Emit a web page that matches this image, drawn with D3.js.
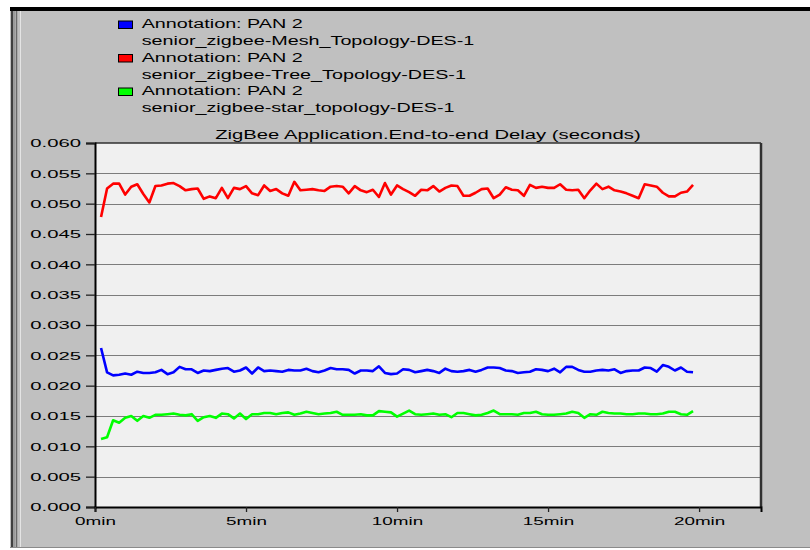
<!DOCTYPE html>
<html>
<head>
<meta charset="utf-8">
<script src="https://cdn.jsdelivr.net/npm/d3@7/dist/d3.min.js"></script>
<style>
body {margin:0; background:#fff}
svg {display:block}
text {font-family:"Liberation Sans", Arial, sans-serif; fill:#000}
</style>
</head>
<body>
<svg></svg>
<script>

// values (seconds), one sample every 0.2 min from 0.2 min
var t0 = 0.2
var dt = 0.2

var meshDelay = [
 0.0262,0.0222,0.0217,0.0218,0.0220,0.0218,0.0223,0.0221,0.0221,0.0222,
 0.0226,0.0219,0.0222,0.0231,0.0227,0.0227,0.0221,0.0225,0.0224,0.0226,
 0.0228,0.0229,0.0223,0.0225,0.0230,0.0220,0.0230,0.0224,0.0225,0.0224,
 0.0223,0.0226,0.0225,0.0225,0.0228,0.0224,0.0222,0.0225,0.0229,0.0227,
 0.0227,0.0226,0.0220,0.0225,0.0225,0.0224,0.0232,0.0221,0.0219,0.0220,
 0.0227,0.0226,0.0222,0.0224,0.0226,0.0224,0.0221,0.0228,0.0224,0.0223,
 0.0224,0.0226,0.0223,0.0226,0.0230,0.0230,0.0229,0.0225,0.0224,0.0221,
 0.0222,0.0223,0.0227,0.0226,0.0224,0.0228,0.0222,0.0231,0.0231,0.0226,
 0.0223,0.0223,0.0225,0.0226,0.0225,0.0227,0.0221,0.0224,0.0225,0.0225,
 0.0230,0.0229,0.0223,0.0234,0.0231,0.0225,0.0230,0.0223,0.0222]

var treeDelay = [
 0.0478,0.0525,0.0533,0.0533,0.0515,0.0528,0.0532,0.0516,0.0502,0.0529,
 0.0530,0.0533,0.0534,0.0529,0.0522,0.0524,0.0525,0.0508,0.0512,0.0509,
 0.0526,0.0509,0.0526,0.0524,0.0529,0.0517,0.0514,0.0530,0.0521,0.0524,
 0.0517,0.0513,0.0536,0.0522,0.0523,0.0524,0.0522,0.0521,0.0528,0.0529,
 0.0528,0.0517,0.0529,0.0522,0.0519,0.0523,0.0511,0.0534,0.0515,0.0530,
 0.0524,0.0519,0.0513,0.0523,0.0522,0.0529,0.0520,0.0526,0.0530,0.0529,
 0.0513,0.0513,0.0518,0.0524,0.0525,0.0509,0.0515,0.0527,0.0523,0.0522,
 0.0513,0.0531,0.0526,0.0528,0.0526,0.0526,0.0532,0.0523,0.0522,0.0523,
 0.0509,0.0522,0.0533,0.0524,0.0528,0.0522,0.0520,0.0517,0.0513,0.0509,
 0.0532,0.0530,0.0528,0.0518,0.0512,0.0512,0.0518,0.0520,0.0531]

var starDelay = [
 0.0112,0.0115,0.0143,0.0139,0.0147,0.0150,0.0142,0.0150,0.0147,0.0152,
 0.0152,0.0153,0.0154,0.0152,0.0151,0.0153,0.0142,0.0148,0.0150,0.0147,
 0.0154,0.0153,0.0146,0.0154,0.0145,0.0153,0.0153,0.0155,0.0155,0.0153,
 0.0155,0.0156,0.0152,0.0154,0.0157,0.0155,0.0153,0.0154,0.0155,0.0157,
 0.0152,0.0152,0.0152,0.0153,0.0151,0.0151,0.0158,0.0157,0.0156,0.0149,
 0.0154,0.0159,0.0153,0.0152,0.0153,0.0154,0.0152,0.0153,0.0148,0.0155,
 0.0155,0.0153,0.0151,0.0152,0.0155,0.0159,0.0153,0.0153,0.0153,0.0152,
 0.0155,0.0155,0.0157,0.0153,0.0152,0.0152,0.0153,0.0154,0.0157,0.0155,
 0.0147,0.0153,0.0152,0.0157,0.0155,0.0154,0.0154,0.0153,0.0153,0.0154,
 0.0154,0.0153,0.0153,0.0154,0.0157,0.0157,0.0153,0.0152,0.0158]

var seriesNames = ["senior_zigbee-Mesh_Topology-DES-1",
                   "senior_zigbee-Tree_Topology-DES-1",
                   "senior_zigbee-star_topology-DES-1"]
var annotation = "Annotation: PAN 2"
var title = "ZigBee Application.End-to-end Delay (seconds)"

var yTicks = [0, 0.005, 0.01, 0.015, 0.02, 0.025, 0.03, 0.035, 0.04, 0.045, 0.05, 0.055, 0.06]
var xTicks = [0, 5, 10, 15, 20]
var xTickLabels = ["0min", "5min", "10min", "15min", "20min"]


var screen = {width: 810, height: 550}
var plot = {left: 95, right: 761, top: 143, bottom: 507}

var svg = d3.select("svg")
    .attr("width", screen.width)
    .attr("height", screen.height)

// the old bitmap font is wide, so stretch our text sideways
var stretch = function (sel, k)
{
    sel.each(function ()
    {
        var w = this.getComputedTextLength()
        d3.select(this)
            .attr("textLength", w * k)
            .attr("lengthAdjust", "spacingAndGlyphs")
    })
}

var drawFrame = function ()
{
    svg.append("rect")
        .attr("x", 10).attr("y", 9)
        .attr("width", screen.width - 10).attr("height", 538)
        .attr("fill", "#c0c0c0")
    // top black bar
    svg.append("rect")
        .attr("x", 10).attr("y", 7)
        .attr("width", screen.width - 10).attr("height", 4)
        .attr("fill", "#000")
    // double line on the left
    svg.append("line").attr("x1", 12).attr("x2", 12).attr("y1", 11).attr("y2", 547)
        .attr("stroke", "#404040").attr("stroke-width", 2)
    svg.append("line").attr("x1", 14).attr("x2", 14).attr("y1", 11).attr("y2", 547)
        .attr("stroke", "#9a9a9a").attr("stroke-width", 2)
    svg.append("line").attr("x1", 16.5).attr("x2", 16.5).attr("y1", 11).attr("y2", 547)
        .attr("stroke", "#6a6a6a").attr("stroke-width", 1.5)
    svg.append("line").attr("x1", 20.5).attr("x2", 20.5).attr("y1", 11).attr("y2", 547)
        .attr("stroke", "#e4e4e4").attr("stroke-width", 1)
    svg.append("line").attr("x1", 10).attr("x2", screen.width).attr("y1", 547.5).attr("y2", 547.5)
        .attr("stroke", "#8a8a8a").attr("stroke-width", 1)
}

var drawLegend = function (cScale)
{
    var gs = svg.append("g")
        .attr("id", "legend")
        .selectAll("g")
        .data(seriesNames)
        .enter()
        .append("g")
        .attr("transform", function (d, i) {return "translate(118," + (20.5 + i * 33.5) + ")"})

    gs.append("rect")
        .attr("x", 0.5).attr("y", 0.5)
        .attr("width", 14).attr("height", 7.5)
        .attr("fill", function (d) {return cScale(d)})
        .attr("stroke", "#000")

    gs.append("text")
        .attr("x", 23.7).attr("y", 7.8)
        .style("font-size", "12.5px")
        .text(annotation)
        .call(stretch, 1.58)

    gs.append("text")
        .attr("x", 23.7).attr("y", 24.5)
        .style("font-size", "12.5px")
        .text(function (d) {return d})
        .call(stretch, 1.58)
}

var setup = function ()
{
    drawFrame()

    var xScale = d3.scaleLinear()
        .domain([0, 22.05])
        .range([plot.left, plot.right])

    var yScale = d3.scaleLinear()
        .domain([0, 0.06])
        .range([plot.bottom, plot.top])

    var cScale = d3.scaleOrdinal()
        .domain(seriesNames)
        .range(["#0000ff", "#ff0000", "#00ff00"])

    svg.append("rect")
        .attr("x", plot.left).attr("y", plot.top)
        .attr("width", plot.right - plot.left)
        .attr("height", plot.bottom - plot.top)
        .attr("fill", "#f0f0f0")

    // horizontal grid
    svg.append("g")
        .attr("id", "grid")
        .selectAll("line")
        .data(yTicks.slice(1, -1))
        .enter()
        .append("line")
        .attr("x1", plot.left).attr("x2", plot.right)
        .attr("y1", function (d) {return Math.round(yScale(d)) + 0.5})
        .attr("y2", function (d) {return Math.round(yScale(d)) + 0.5})
        .attr("stroke", "#7c7c7c")
        .attr("stroke-width", 1.2)

    // plot border: top and right
    svg.append("line")
        .attr("x1", plot.left).attr("x2", plot.right)
        .attr("y1", plot.top).attr("y2", plot.top)
        .attr("stroke", "#303030").attr("stroke-width", 1.5)
    svg.append("line")
        .attr("x1", plot.right).attr("x2", plot.right)
        .attr("y1", plot.top).attr("y2", plot.bottom)
        .attr("stroke", "#303030").attr("stroke-width", 2.5)

    var lineGenerator = d3.line()
        .x(function (d, i) {return xScale(t0 + i * dt)})
        .y(function (d) {return yScale(d)})

    var allSeries = [meshDelay, treeDelay, starDelay]

    svg.append("g")
        .attr("id", "lines")
        .selectAll("path")
        .data(allSeries)
        .enter()
        .append("path")
        .attr("fill", "none")
        .attr("stroke", function (d, i) {return cScale(seriesNames[i])})
        .attr("stroke-width", 2.6)
        .attr("stroke-linejoin", "round")
        .attr("d", lineGenerator)

    var yAxis = d3.axisLeft(yScale)
        .tickValues(yTicks)
        .tickFormat(d3.format(".3f"))
        .tickSize(9)
        .tickPadding(5)

    var xAxis = d3.axisBottom(xScale)
        .tickValues(xTicks)
        .tickFormat(function (d, i) {return xTickLabels[i]})
        .tickSize(5)
        .tickPadding(5)

    var gy = svg.append("g")
        .attr("id", "yAxis")
        .attr("transform", "translate(" + plot.left + ",0)")
        .call(yAxis)

    var gx = svg.append("g")
        .attr("id", "xAxis")
        .attr("transform", "translate(0," + plot.bottom + ")")
        .call(xAxis)

    svg.selectAll("#xAxis .domain, #yAxis .domain")
        .attr("stroke", "#000")
        .attr("stroke-width", 2)
    svg.selectAll("#xAxis .tick line, #yAxis .tick line")
        .attr("stroke", "#222")
        .attr("stroke-width", 1.3)

    gy.selectAll("text")
        .attr("fill", "#000")
        .style("font-size", "11.8px")
        .style("font-family", "'Liberation Sans', Arial, sans-serif")
        .call(stretch, 1.72)

    gx.selectAll("text")
        .attr("fill", "#000")
        .style("font-size", "11.8px")
        .style("font-family", "'Liberation Sans', Arial, sans-serif")
        .call(stretch, 1.6)

    svg.append("text")
        .attr("x", (plot.left + plot.right) / 2)
        .attr("y", 139.3)
        .attr("text-anchor", "middle")
        .style("font-size", "12.5px")
        .text(title)
        .call(stretch, 1.62)

    drawLegend(cScale)
}

setup()

</script>
</body>
</html>
